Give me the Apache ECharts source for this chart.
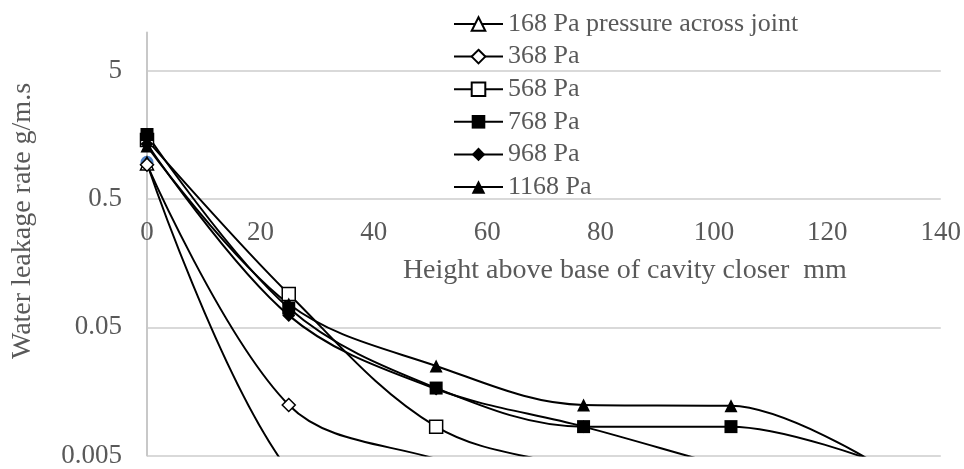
<!DOCTYPE html>
<html>
<head>
<meta charset="utf-8">
<script src="https://cdn.jsdelivr.net/npm/echarts@6/dist/echarts.min.js"></script>
<style>
  html, body { margin: 0; padding: 0; background: #fff; }
  #chart { width: 964px; height: 469px; }
</style>
</head>
<body>
<div id="chart"></div>
<script>
// heights above base (mm)
var heights = [0, 25, 51, 77, 103, 129];
// leakage rate g/m.s per pressure; values below 0.005 fall off the plot
var pa168 = [0.95, 0.0038, 0.001, 0.0005, 0.0003, 0.0002];
var pa368 = [0.93, 0.0124, 0.0047, 0.0025, 0.0012, 0.0008];
var pa568 = [1.45, 0.091, 0.0084, 0.0038, 0.0015, 0.001];
var pa768 = [1.6, 0.0707, 0.0168, 0.0084, 0.0084, 0.0044];
var pa968 = [1.35, 0.062, 0.0165, 0.0084, 0.004, 0.002];
var pa1168 = [1.3, 0.076, 0.025, 0.0124, 0.0122, 0.0042];
var stray = [0.97]; // blue marker at height 0
var yTicks = [0.005, 0.05, 0.5, 5];
var names = ["168 Pa pressure across joint", "368 Pa", "568 Pa", "768 Pa", "968 Pa", "1168 Pa"];

var font = "Liberation Serif";
var gridTop = 32.5, gridBottom = 13;
var plotH = 469 - gridTop - gridBottom;
var yMin = 0.005, yMax = 10;
// x axis crosses the y axis at 0.5
var xOffset = -plotH * Math.log10(0.5 / yMin) / Math.log10(yMax / yMin);

function pairs(vals) {
  return vals.map(function (v, i) { return [heights[i], v]; });
}

function line(name, vals, symbol, hollow) {
  return {
    name: name,
    type: "line",
    data: pairs(vals),
    smooth: 0.35,
    symbol: symbol,
    symbolSize: 13,
    lineStyle: { color: "#000", width: 2 },
    itemStyle: hollow
      ? { color: "#fff", borderColor: "#000", borderWidth: 1.5 }
      : { color: "#000", borderColor: "#000", borderWidth: 0 },
    emphasis: { disabled: true }
  };
}

var chart = echarts.init(document.getElementById("chart"));
chart.setOption({
  animation: false,
  grid: { left: 147, right: 23, top: gridTop, bottom: gridBottom },
  legend: {
    data: names,
    orient: "vertical",
    left: 448,
    top: 6,
    itemWidth: 49,
    itemHeight: 17,
    itemGap: 6.6,
    textStyle: { fontFamily: font, fontSize: 26, color: "#595959", lineHeight: 26 }
  },
  xAxis: {
    type: "value",
    min: 0,
    max: 140,
    interval: 20,
    offset: xOffset,
    axisLine: { onZero: false, show: false },
    axisTick: { show: false },
    splitLine: { show: false },
    axisLabel: { fontFamily: font, fontSize: 27, color: "#595959", margin: 20 },
    name: "Height above base of cavity closer  mm",
    nameLocation: "middle",
    nameGap: 58,
    nameTextStyle: { fontFamily: font, fontSize: 28, color: "#595959", padding: [0, 0, 0, 162] }
  },
  yAxis: {
    type: "log",
    min: yMin,
    max: yMax,
    axisLine: { show: true, lineStyle: { color: "#c8c8c8", width: 2 } },
    axisTick: { show: false, customValues: yTicks },
    splitLine: { show: true, lineStyle: { color: "#d9d9d9", width: 2 } },
    axisLabel: {
      customValues: yTicks,
      fontFamily: font,
      fontSize: 27,
      color: "#595959",
      margin: 25,
      formatter: function (v) { return String(v); }
    },
    name: "Water leakage rate g/m.s",
    nameLocation: "middle",
    nameGap: 110,
    nameTextStyle: { fontFamily: font, fontSize: 28, color: "#595959", padding: [0, 0, 0, 46] }
  },
  series: [
    {
      name: "stray",
      type: "line",
      data: pairs(stray),
      symbol: "circle",
      symbolSize: 13,
      itemStyle: { color: "#4f81c4" },
      lineStyle: { width: 0 },
      emphasis: { disabled: true }
    },
    line(names[0], pa168, "triangle", true),
    line(names[1], pa368, "diamond", true),
    line(names[2], pa568, "rect", true),
    line(names[3], pa768, "rect", false),
    line(names[4], pa968, "diamond", false),
    line(names[5], pa1168, "triangle", false)
  ]
});
</script>
</body>
</html>
